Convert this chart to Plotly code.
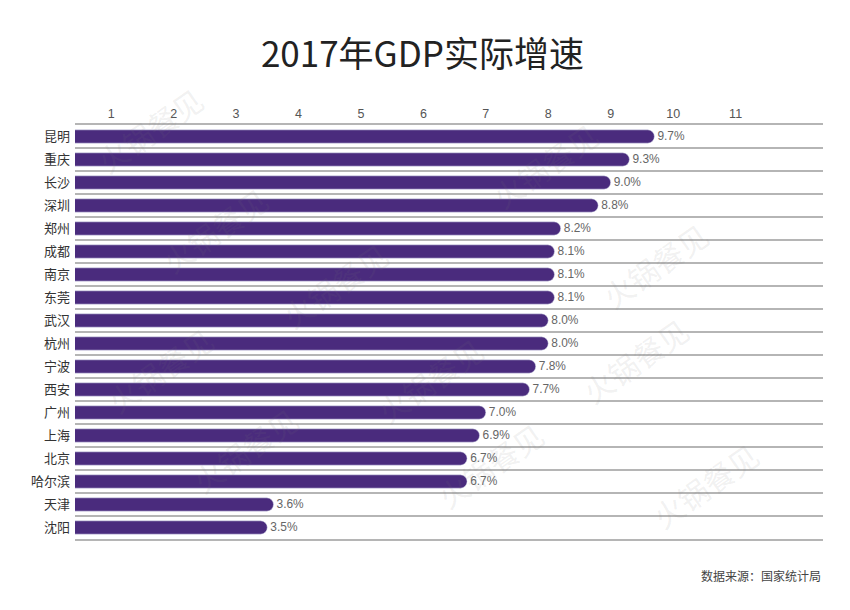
import plotly.graph_objects as go

# 2017 real GDP growth by city (%)
cities = ["昆明", "重庆", "长沙", "深圳", "郑州", "成都", "南京", "东莞", "武汉",
          "杭州", "宁波", "西安", "广州", "上海", "北京", "哈尔滨", "天津", "沈阳"]
growth = [9.7, 9.3, 9.0, 8.8, 8.2, 8.1, 8.1, 8.1, 8.0,
          8.0, 7.8, 7.7, 7.0, 6.9, 6.7, 6.7, 3.6, 3.5]
x_ticks = [1, 2, 3, 4, 5, 6, 7, 8, 9, 10, 11]

W, H = 850, 610
L, R, T, B = 75, 27, 125, 71

fig = go.Figure(
    go.Bar(
        x=growth,
        y=cities,
        orientation="h",
        marker=dict(color="#4a2b7d", cornerradius=7),
        text=[f"{v:.1f}%" for v in growth],
        textposition="outside",
        textfont=dict(size=12.5, color="#666666", family="Liberation Sans, Arial"),
        cliponaxis=False,
    )
)

# faint diagonal watermarks
marks = [(85, 75), (150, 175), (335, 230), (610, 110), (720, 265), (95, 370),
         (430, 380), (700, 415), (180, 505), (490, 520), (770, 540)]
for px, py in marks:
    fig.add_annotation(
        text="火锅餐见", xref="paper", yref="paper",
        x=(px - L) / (W - L - R), y=(H - B - py) / (H - T - B),
        showarrow=False, textangle=-35,
        font=dict(size=30, color="rgba(120,120,120,0.11)", family="Noto Sans CJK SC"),
    )

fig.add_annotation(
    text="数据来源：国家统计局", xref="paper", yref="paper",
    x=1, y=(H - B - 575) / (H - T - B), xanchor="right", yanchor="middle",
    showarrow=False, font=dict(size=12, color="#444444", family="Noto Sans CJK SC"),
)

fig.update_layout(
    width=W, height=H,
    margin=dict(l=L, r=R, t=T, b=B),
    paper_bgcolor="white", plot_bgcolor="white",
    showlegend=False,
    bargap=0.42,
    title=dict(
        text="2017年GDP实际增速", x=0.497, xanchor="center",
        y=1 - 55 / H, yref="container", yanchor="middle",
        font=dict(size=35, color="#222222", family="Noto Sans CJK SC"),
    ),
    xaxis=dict(
        side="top", range=[0.42, 12.4],
        tickvals=x_ticks, ticks="", showgrid=False, zeroline=False,
        showline=True, mirror=True, linecolor="#b5b5b5", linewidth=2,
        tickfont=dict(size=12.5, color="#555555", family="Liberation Sans, Arial"),
    ),
    yaxis=dict(
        autorange="reversed", tickson="boundaries", ticks="",
        showgrid=True, gridcolor="#b5b5b5", gridwidth=2,
        tickfont=dict(size=13, color="#333333", family="Noto Sans CJK SC"),
        ticklabelstandoff=4,
    ),
)

fig.write_html(
    "out.html",
    config={"displayModeBar": False},
    post_script="document.body.style.margin='0';",
)
